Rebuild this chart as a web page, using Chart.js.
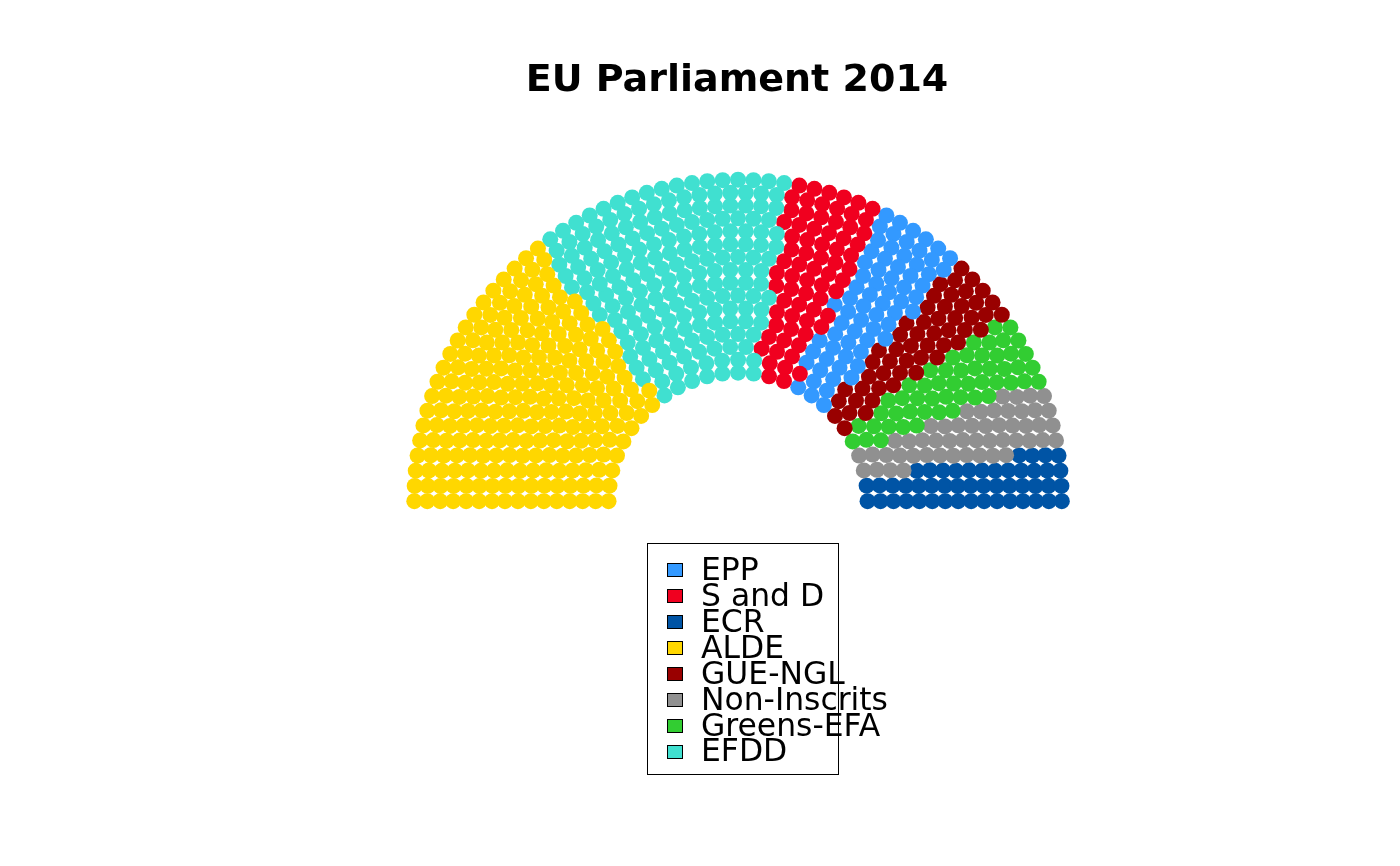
<!DOCTYPE html>
<html>
<head>
<meta charset="utf-8">
<title>EU Parliament 2014</title>
<script src="https://cdn.jsdelivr.net/npm/chart.js@4.4.1/dist/chart.umd.min.js"></script>
<style>
  html, body { margin: 0; padding: 0; background: #ffffff; }
  #wrap { position: relative; width: 1400px; height: 866px; overflow: hidden; }
  #c { position: absolute; left: 0; top: 0; }
  #title { position: absolute; top: 59px; left: 737px; transform: translateX(-50%);
           font: bold 38px "DejaVu Sans", sans-serif; line-height: 38px; white-space: nowrap; color: #000; }
  #legend { position: absolute; left: 646.5px; top: 543px; width: 192.5px; height: 231.5px;
            border: 1.2px solid #000; box-sizing: border-box; }
  .lg-key { position: absolute; width: 16px; height: 14px; border: 1.3px solid #000; box-sizing: border-box; }
  .lg-txt { position: absolute; font: 31.4px "DejaVu Sans", sans-serif; line-height: 30px; white-space: nowrap; color: #000; }
</style>
</head>
<body>
<div id="wrap">
  <canvas id="c" width="1400" height="866"></canvas>
  <div id="title">EU Parliament 2014</div>
  <div id="legend"></div>
</div>
<script>
// ---- data ----
const legendParties = ["EPP", "S and D", "ECR", "ALDE", "GUE-NGL", "Non-Inscrits", "Greens-EFA", "EFDD"];
const legendColors  = ["#3399FF", "#F0001F", "#0054A5", "#FFD700", "#990000", "#909090", "#32CD32", "#40E0D0"];
// blocs of seats as coloured in the picture, from left to right
const blocParties = ["ALDE", "EFDD", "S and D", "EPP", "GUE-NGL", "Greens-EFA", "Non-Inscrits", "ECR"];
const blocSeats   = [221, 191, 70, 67, 52, 52, 50, 48];
const rowCount = 16;

// ---- hemicycle layout (rows of seats, seats per row proportional to radius) ----
const innerRadius = 0.4;
const totalSeats = blocSeats.reduce((a, b) => a + b, 0);
const radii = Array.from({length: rowCount}, (_, i) => innerRadius + (1 - innerRadius) * i / (rowCount - 1));
const radiusSum = radii.reduce((a, b) => a + b, 0);
const exact = radii.map(r => totalSeats * r / radiusSum);
const perRow = exact.map(Math.floor);
let missing = totalSeats - perRow.reduce((a, b) => a + b, 0);
exact.map((v, i) => ({i, rem: v - Math.floor(v)}))
     .sort((a, b) => b.rem - a.rem)
     .slice(0, missing)
     .forEach(o => perRow[o.i] += 1);

const seats = [];
radii.forEach((r, i) => {
  const n = perRow[i];
  for (let j = 0; j < n; j++) {
    const th = Math.PI * j / (n - 1);
    seats.push({th, r});
  }
});
seats.sort((a, b) => (b.th - a.th) || (b.r - a.r));

const colorOf = p => legendColors[legendParties.indexOf(p)];
let cursor = 0;
const datasets = blocParties.map((p, k) => {
  const pts = seats.slice(cursor, cursor + blocSeats[k]).map(s => ({x: s.r * Math.cos(s.th), y: s.r * Math.sin(s.th)}));
  cursor += blocSeats[k];
  return {
    label: p,
    data: pts,
    pointRadius: 8,
    pointHoverRadius: 8,
    pointBackgroundColor: colorOf(p),
    pointBorderColor: colorOf(p),
    pointBorderWidth: 0,
    showLine: false,
    clip: false
  };
});

// map: hemicycle centre at (738.5, 502) px, outer radius 327.5 px
const W = 1400, H = 866, cx = 738.5, cy = 502.5, R = 327.5;
new Chart(document.getElementById('c'), {
  type: 'scatter',
  data: {datasets},
  options: {
    responsive: false,
    devicePixelRatio: 1,
    animation: false,
    events: [],
    layout: {padding: 0},
    plugins: {legend: {display: false}, tooltip: {enabled: false}, title: {display: false}},
    scales: {
      x: {type: 'linear', display: false, min: -cx / R, max: (W - cx) / R},
      y: {type: 'linear', display: false, min: -(H - cy) / R, max: cy / R}
    }
  }
});

// legend (base-R style box)
const lg = document.getElementById('legend');
const box = {left: 646.5, top: 543};
legendParties.forEach((p, i) => {
  const base = 579.3 + i * 25.9;
  const key = document.createElement('div');
  key.className = 'lg-key';
  key.style.left = (666 - box.left) + 'px';
  key.style.top = (base - 17 - box.top) + 'px';
  key.style.background = legendColors[i];
  lg.appendChild(key);
  const t = document.createElement('div');
  t.className = 'lg-txt';
  t.textContent = p;
  t.style.left = (700 - box.left) + 'px';
  t.style.top = (base - 26.2 - box.top) + 'px';
  lg.appendChild(t);
});
</script>
</body>
</html>
